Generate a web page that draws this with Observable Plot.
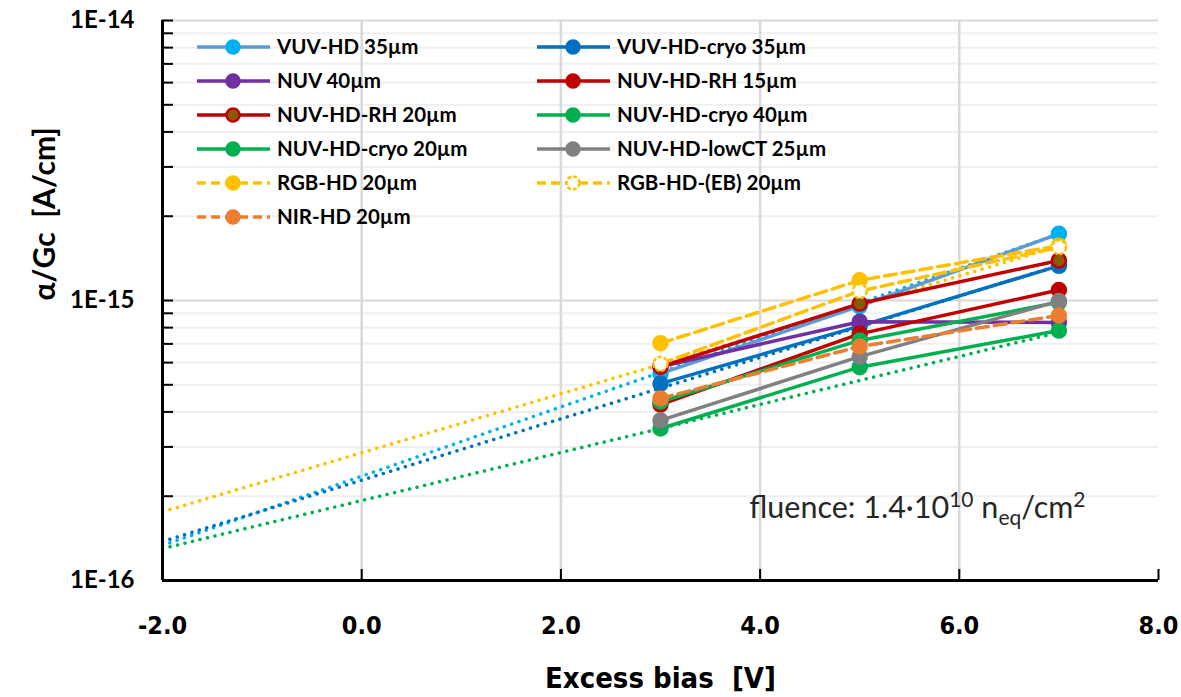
<!DOCTYPE html>
<html>
<head>
<meta charset="utf-8">
<script src="https://cdn.jsdelivr.net/npm/d3@7"></script>
<script src="https://cdn.jsdelivr.net/npm/@observablehq/plot@0.6"></script>
<style>
  html, body { margin: 0; padding: 0; background: #fff; }
  #chart svg { display: block; background: #fff; }
  g[aria-label="y-axis tick label"] text { font-family: Lato, sans-serif; font-weight: bold; font-size: 24px; fill: #000; }
  g[aria-label="x-axis tick label"] text { font-family: "DejaVu Sans Condensed", "Liberation Sans Narrow", sans-serif; font-weight: bold; font-size: 25px; fill: #000; }
</style>
</head>
<body>
<div id="chart"></div>
<script>
// ---------- data ----------
const xBias = [3, 5, 7];                       // excess bias [V]
const seriesNames = [
  "VUV-HD 35µm", "VUV-HD-cryo 35µm",
  "NUV 40µm", "NUV-HD-RH 15µm",
  "NUV-HD-RH 20µm", "NUV-HD-cryo 40µm",
  "NUV-HD-cryo 20µm", "NUV-HD-lowCT 25µm",
  "RGB-HD 20µm", "RGB-HD-(EB) 20µm",
  "NIR-HD 20µm"
];
const vuvHD35      = [5.48e-16, 9.55e-16, 1.73e-15];
const vuvHDcryo35  = [5.05e-16, 8.10e-16, 1.33e-15];
const nuv40        = [5.80e-16, 8.40e-16, 8.35e-16];
const nuvHDRH15    = [4.25e-16, 7.60e-16, 1.09e-15];
const nuvHDRH20    = [5.80e-16, 9.75e-16, 1.39e-15];
const nuvHDcryo40  = [4.35e-16, 7.20e-16, 9.85e-16];
const nuvHDcryo20  = [3.49e-16, 5.78e-16, 7.81e-16];
const nuvHDlowCT25 = [3.73e-16, 6.30e-16, 9.95e-16];
const rgbHD20      = [7.04e-16, 1.18e-15, 1.57e-15];
const rgbHDEB20    = [5.94e-16, 1.08e-15, 1.55e-15];
const nirHD20      = [4.47e-16, 6.85e-16, 8.84e-16];

// dotted trend lines (end points)
const trendX         = [-2, 7];
const trendRGBEB     = [1.76e-16, 1.56e-15];
const trendVUV       = [1.334e-16, 1.73e-15];
const trendVUVcryo   = [1.378e-16, 1.334e-15];
const trendCryo20    = [1.30e-16, 7.69e-16];

// axis ticks
const xTicks = [-2, 0, 2, 4, 6, 8];
const xGrid = [0, 2, 4, 6];
const yMajor = [1e-16, 1e-15, 1e-14];
const yMinor = [2e-16, 3e-16, 4e-16, 5e-16, 6e-16, 7e-16, 8e-16, 9e-16,
                2e-15, 3e-15, 4e-15, 5e-15, 6e-15, 7e-15, 8e-15, 9e-15];

// ---------- styles ----------
const seriesValues = [vuvHD35, vuvHDcryo35, nuv40, nuvHDRH15, nuvHDRH20, nuvHDcryo40,
                      nuvHDcryo20, nuvHDlowCT25, rgbHD20, rgbHDEB20, nirHD20];
const lineColors = ["#5b9bd5", "#0070c0", "#7030a0", "#c00000", "#c00000", "#00b050",
                    "#00b050", "#808080", "#ffc000", "#ffc000", "#ed7d31"];
const dotStroke  = ["#00b0f0", "#0070c0", "#7030a0", "#c00000", "#c00000", "#00b050",
                    "#00b050", "#808080", "#ffc000", "#ffc000", "#ed7d31"];
const dotFill    = ["#00b0f0", "#0070c0", "#7030a0", "#c00000", "#8b5a00", "#00b050",
                    "#00b050", "#808080", "#ffc000", "#ffffff", "#ed7d31"];
const dashed     = [false, false, false, false, false, false, false, false, true, true, true];

const series = seriesNames.map((name, i) => ({
  name, lineColor: lineColors[i], stroke: dotStroke[i], fill: dotFill[i], dashed: dashed[i],
  data: xBias.map((x, j) => ({x, y: seriesValues[i][j]}))
}));

const trends = [
  {color: "#ffc000", values: trendRGBEB},
  {color: "#00b0f0", values: trendVUV},
  {color: "#0070c0", values: trendVUVcryo},
  {color: "#00b050", values: trendCryo20}
].map(t => ({color: t.color, data: trendX.map((x, j) => ({x, y: t.values[j]}))}));

const W = 1181, H = 697, ML = 162, MR = 23, MT = 20, MB = 117;
const innerW = W - ML - MR, innerH = H - MT - MB;

const marks = [
  // gridlines
  Plot.ruleY(yMinor, {stroke: "#efefef", strokeWidth: 2}),
  Plot.ruleY([1e-15, 1e-14], {stroke: "#d9d9d9", strokeWidth: 2}),
  Plot.ruleX(xGrid, {stroke: "#d9d9d9", strokeWidth: 2.5}),
  // trend lines
  ...trends.map(t => Plot.line(t.data, {x: "x", y: "y", stroke: t.color, strokeWidth: 3.5,
      strokeDasharray: "0.1 7.6", strokeLinecap: "round"})),
  // series
  ...series.flatMap(s => [
    Plot.line(s.data, {x: "x", y: "y", stroke: s.lineColor, strokeWidth: 3.5,
      strokeDasharray: s.dashed ? "12 6" : null}),
    Plot.dot(s.data, {x: "x", y: "y", r: 7, fill: s.fill, stroke: s.stroke, strokeWidth: 2.5,
      strokeDasharray: s.fill === "#ffffff" ? "4 2" : null})
  ]),
  // axis frame
  Plot.ruleX([-2], {stroke: "#000", strokeWidth: 3}),
  Plot.ruleY([1e-16], {stroke: "#000", strokeWidth: 3}),
  // inward ticks
  Plot.tickY([...yMajor, ...yMinor], {stroke: "#000", strokeWidth: 2, insetRight: innerW - 11}),
  Plot.tickX(xTicks.slice(1), {stroke: "#000", strokeWidth: 2, insetTop: innerH - 11}),
  // tick labels
  Plot.axisY({ticks: yMajor, tickSize: 0, tickPadding: 28, label: null,
    tickFormat: d => "1E" + Math.round(Math.log10(d))}),
  Plot.axisX({ticks: xTicks, tickSize: 0, tickPadding: 36, label: null,
    tickFormat: d => d.toFixed(1)}),
  // axis titles
  Plot.text(["Excess bias\u00a0\u00a0[V]"], {frameAnchor: "bottom", dy: 98, lineAnchor: "middle",
    fontFamily: "'DejaVu Sans Condensed', 'Liberation Sans Narrow', sans-serif", fontWeight: "bold", fontSize: 29, fill: "#000"}),
  Plot.text(["α/Gc\u00a0\u00a0[A/cm]"], {frameAnchor: "left", dx: -117, rotate: -90, lineAnchor: "middle",
    fontFamily: "Lato, sans-serif", fontWeight: "bold", fontSize: 30, fill: "#000"}),
  // fluence annotation (rich text added below)
  Plot.text(["FLUENCE"], {frameAnchor: "bottom-right", dx: -73, dy: -72, lineAnchor: "middle", textAnchor: "end",
    fontFamily: "Lato, sans-serif", fontSize: 30.5, fill: "#262626"})
];

const chart = Plot.plot({
  width: W, height: H,
  marginLeft: ML, marginRight: MR, marginTop: MT, marginBottom: MB,
  style: {background: "#fff", overflow: "visible"},
  x: {domain: [-2, 8]},
  y: {type: "log", domain: [1e-16, 1e-14]},
  marks
});

document.getElementById("chart").appendChild(chart);

const svg = d3.select(chart);

// rich fluence text
svg.selectAll("text").filter(function() { return this.textContent === "FLUENCE"; })
  .each(function() {
    const t = d3.select(this);
    t.text(null);
    t.append("tspan").text("fluence: 1.4·10");
    t.append("tspan").attr("dy", -11).attr("font-size", 21).text("10");
    t.append("tspan").attr("dy", 11).text("\u00a0n");
    t.append("tspan").attr("dy", 7).attr("font-size", 21).text("eq");
    t.append("tspan").attr("dy", -7).text("/cm");
    t.append("tspan").attr("dy", -11).attr("font-size", 21).text("2");
  });

// legend inside the plot
const lg = svg.append("g").attr("class", "legend");
series.forEach((s, i) => {
  const col = i % 2, row = Math.floor(i / 2);
  const x0 = col ? 537 : 197;
  const y = 47 + row * 34;
  lg.append("line").attr("x1", x0).attr("x2", x0 + 73).attr("y1", y).attr("y2", y)
    .attr("stroke", s.lineColor).attr("stroke-width", 3.5)
    .attr("stroke-dasharray", s.dashed ? "9 5" : null);
  lg.append("circle").attr("cx", x0 + 36).attr("cy", y).attr("r", 6.5)
    .attr("fill", s.fill).attr("stroke", s.stroke).attr("stroke-width", 2.5)
    .attr("stroke-dasharray", s.fill === "#ffffff" ? "4 2" : null);
  lg.append("text").attr("x", x0 + 80).attr("y", y).attr("dy", "0.35em")
    .attr("text-anchor", "start")
    .attr("font-family", "Lato, sans-serif").attr("font-weight", "bold").attr("font-size", 20.5)
    .attr("fill", "#000").text(s.name);
});
</script>
</body>
</html>
